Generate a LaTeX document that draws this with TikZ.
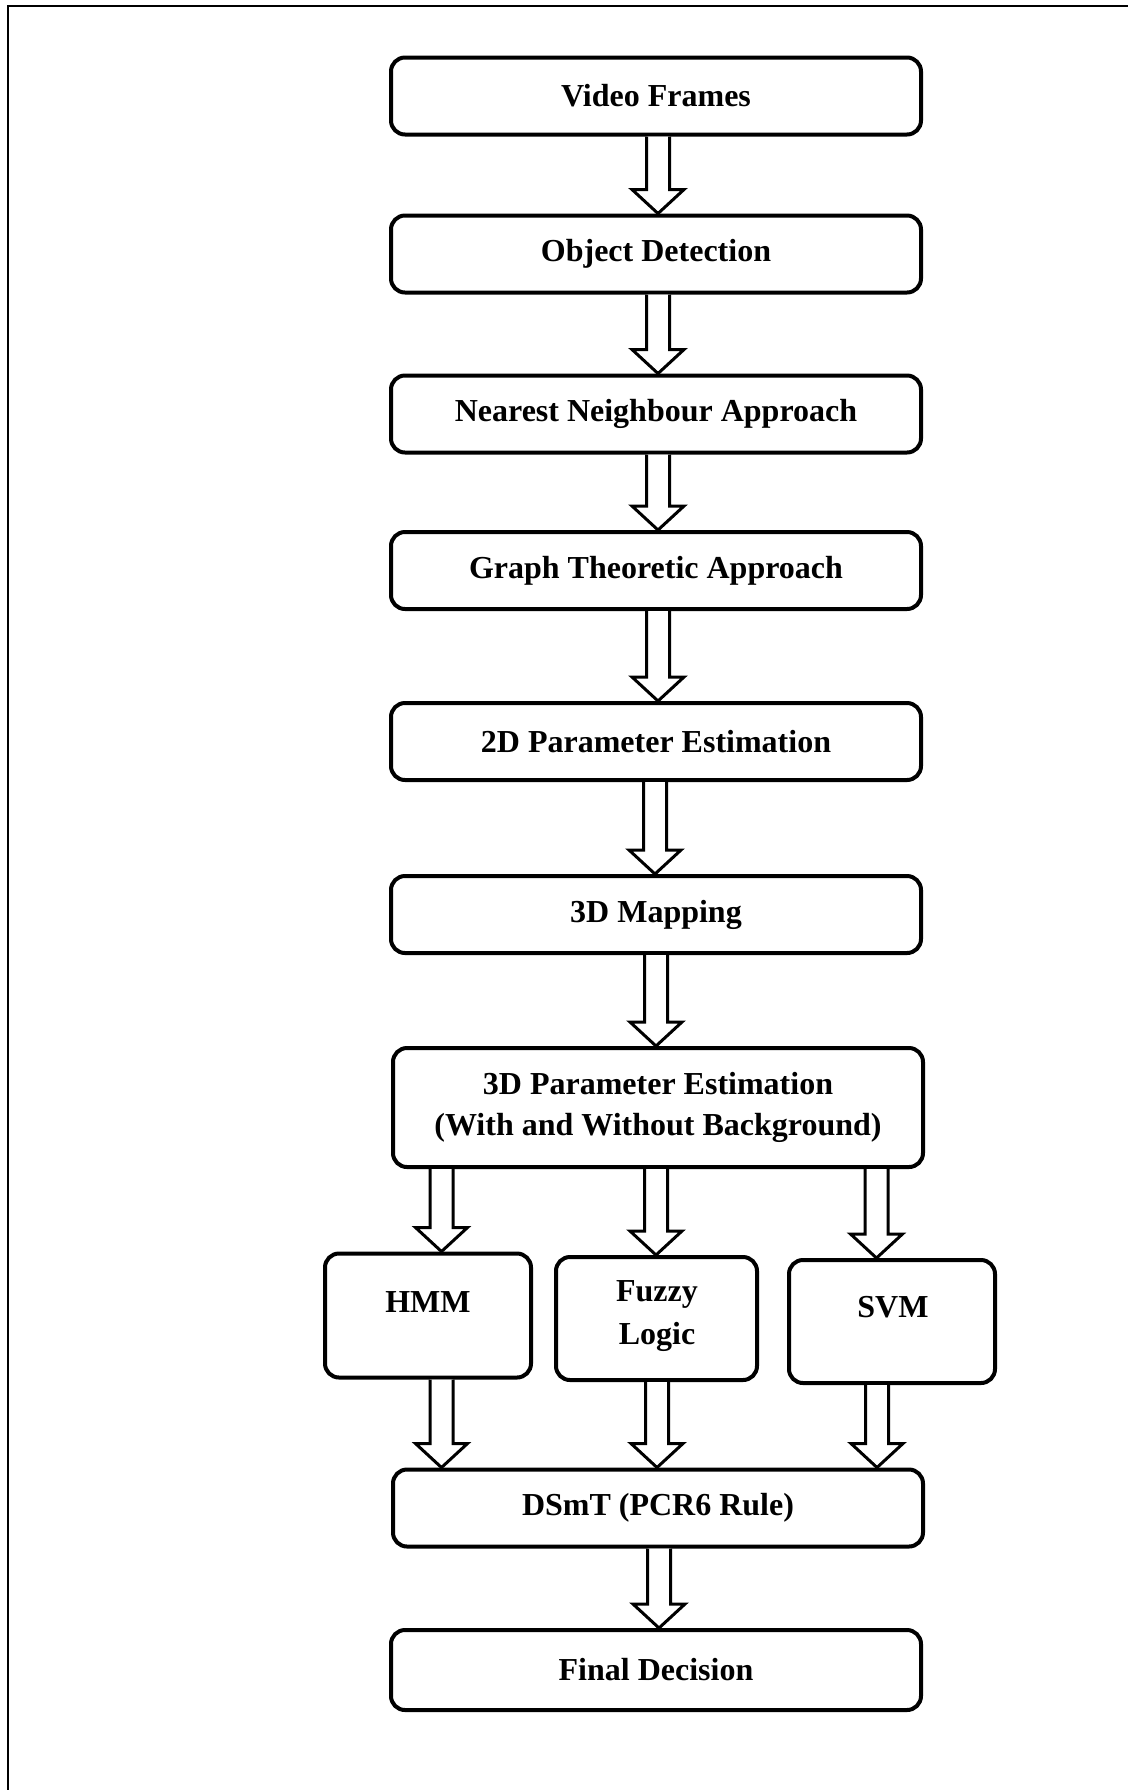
\documentclass[tikz,border=0pt]{standalone}
\usepackage{fontspec}
\setmainfont{Liberation Serif}
\usetikzlibrary{calc}

% hollow block arrow from the x of #1 (start height) down to the height of #2
\newcommand\hollowarrow[2]{%
  \draw[hollow] let \p1=#1, \p2=#2 in
    (\x1-5.75pt,\y1) -- (\x1-5.75pt,\y2+12pt) -- (\x1-13pt,\y2+12pt)
    -- (\x1,\y2) -- (\x1+13pt,\y2+12pt) -- (\x1+5.75pt,\y2+12pt)
    -- (\x1+5.75pt,\y1);%
}

\begin{document}
\begin{tikzpicture}[x=0.5pt,y=-0.5pt,
  box/.style={draw, line width=2pt, rounded corners=7pt, fill=white,
    minimum width=265pt, minimum height=38.5pt, inner sep=0pt,
    font=\fontsize{16}{20.5}\selectfont\bfseries, align=center},
  smallbox/.style={box, minimum width=103pt, minimum height=62pt},
  label/.style={font=\fontsize{16}{21.5}\selectfont\bfseries, align=center, inner sep=0pt},
  hollow/.style={draw, line width=1.5pt, fill=white, line join=miter}]
\useasboundingbox (0,0) rectangle (1128,1790);
\clip (0,0) rectangle (1128,1790);
\fill[white] (0,0) rectangle (1128,1790);

% page frame, open at the right and bottom
\draw[line width=1.2pt] (8,6) rectangle (1200,1860);

% main chain of steps
\node[box] (vf)   at (656,96)     {Video Frames};
\node[box] (od)   at (656,254)    {Object Detection};
\node[box] (nn)   at (656,414)    {Nearest Neighbour Approach};
\node[box] (gt)   at (656,570.5)  {Graph Theoretic Approach};
\node[box] (pe2)  at (656,741.5)  {2D Parameter Estimation};
\node[box] (map)  at (656,914.5)  {3D Mapping};
\node[box, minimum height=59.5pt] (pe3) at (658,1107.5)
  {3D Parameter Estimation\\(With and Without Background)};

% three classifiers
\node[smallbox] (hmm)   at (428,1315.5)   {};
\node[smallbox, minimum width=100.5pt, minimum height=61.5pt] (fuzzy) at (656.5,1318.5) {};
\node[smallbox, minimum height=61.5pt] (svm) at (892,1321.5) {};
\node[label] (hmmt)   at (428,1302)  {HMM};
\node[label] (fuzzyt) at (657,1316)  {Fuzzy\\Logic};
\node[label] (svmt)   at (893,1307)  {SVM};

% fusion and decision
\node[box] (dsmt)  at (658,1508) {DSmT (PCR6 Rule)};
\node[box, minimum height=40pt] (final) at (656,1670) {Final Decision};

% block arrows along the chain
\hollowarrow{($(vf.south)+(2,0)$)}{(od.north)}
\hollowarrow{($(od.south)+(2,0)$)}{(nn.north)}
\hollowarrow{($(nn.south)+(2,0)$)}{(gt.north)}
\hollowarrow{($(gt.south)+(2,0)$)}{(pe2.north)}
\hollowarrow{($(pe2.south)+(-1,0)$)}{(map.north)}
\hollowarrow{($(map.south)+(0,0)$)}{(pe3.north)}

% branches to the classifiers
\hollowarrow{($(pe3.south)+(-216.5,0)$)}{(hmm.north)}
\hollowarrow{($(pe3.south)+(-2,0)$)}{(fuzzy.north)}
\hollowarrow{($(pe3.south)+(218.5,0)$)}{(svm.north)}

% classifiers into the fusion step
\hollowarrow{($(hmm.south)+(13.5,0)$)}{(dsmt.north)}
\hollowarrow{($(fuzzy.south)+(0.5,0)$)}{(dsmt.north)}
\hollowarrow{($(svm.south)+(-15,0)$)}{(dsmt.north)}

\hollowarrow{($(dsmt.south)+(1,0)$)}{(final.north)}
\end{tikzpicture}
\end{document}
